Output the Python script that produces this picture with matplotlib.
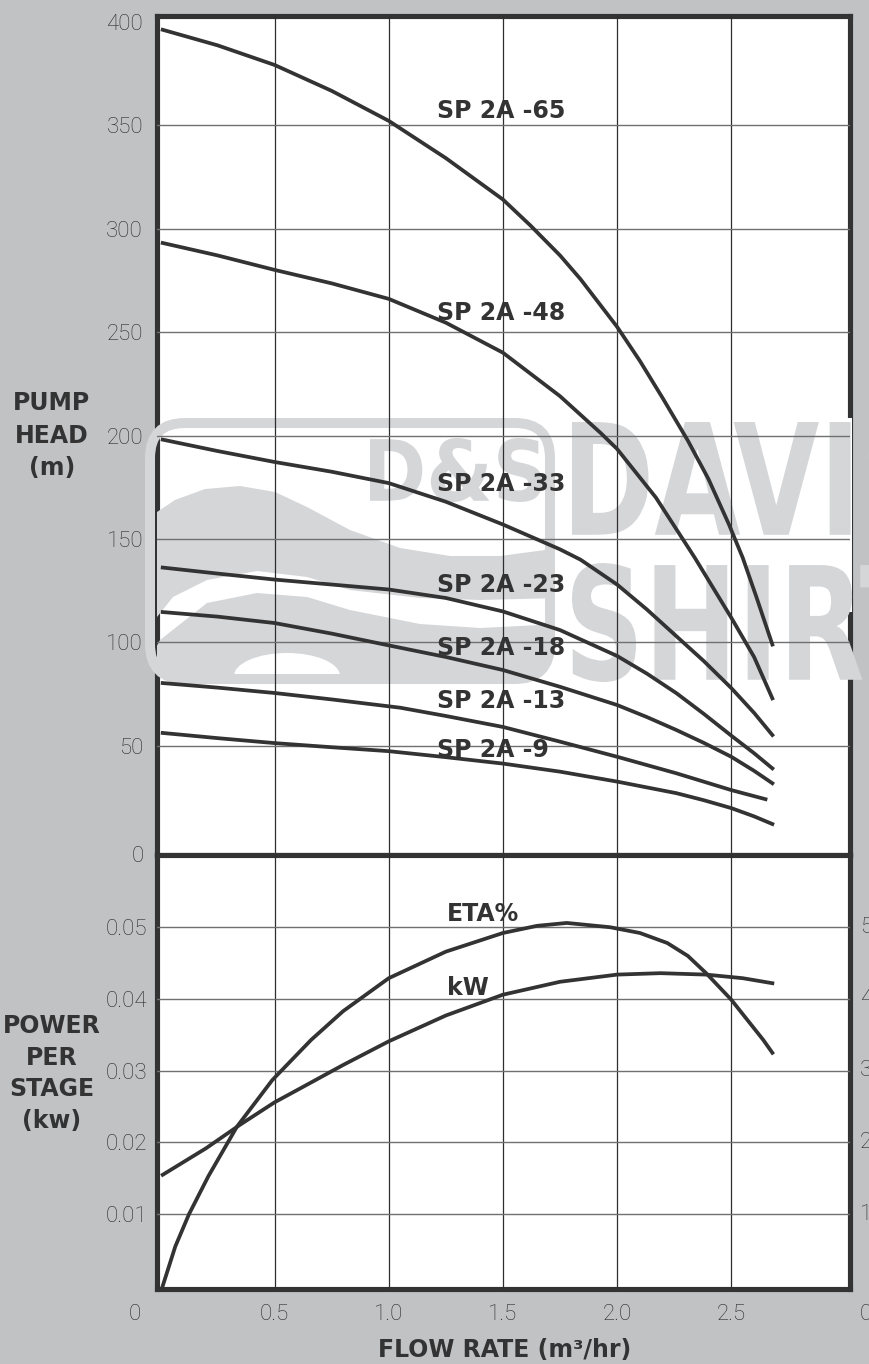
import matplotlib
matplotlib.use('Agg')
import matplotlib.pyplot as plt
from matplotlib.patches import FancyBboxPatch, Polygon, Rectangle, Ellipse, PathPatch
from matplotlib.textpath import TextPath
from matplotlib.font_manager import FontProperties
from matplotlib.transforms import Affine2D

# pump head (m) against flow rate (m3/hr), one pair of lists per model
q_65 = [0.01, 0.25, 0.5, 0.75, 1.0, 1.25, 1.5, 1.62, 1.75, 1.84, 2.0, 2.1, 2.2, 2.31, 2.4, 2.49,
        2.55, 2.61, 2.68]
h_65 = [396, 388.5, 379, 366.5, 352, 334, 314, 301.5, 287, 275.5, 252.5, 236, 218, 197.5, 179,
        157, 141, 122, 99]
q_48 = [0.01, 0.25, 0.5, 0.75, 1.0, 1.25, 1.5, 1.75, 1.93, 2.0, 2.17, 2.34, 2.5, 2.6, 2.68]
h_48 = [293, 287, 280, 273.5, 266, 254.5, 240, 219, 201, 193.5, 170, 141, 112, 93, 73]
q_33 = [0.01, 0.25, 0.5, 0.75, 1.0, 1.25, 1.5, 1.75, 1.84, 2.0, 2.13, 2.26, 2.38, 2.5, 2.6, 2.68]
h_33 = [198, 192.5, 187.2, 182.5, 177, 168, 157, 145, 140, 128, 116, 103, 91, 78, 66, 55.3]
q_23 = [0.01, 0.25, 0.5, 0.75, 1.0, 1.25, 1.5, 1.75, 2.0, 2.13, 2.26, 2.38, 2.5, 2.6, 2.68]
h_23 = [136.2, 133.3, 130.4, 128, 125.6, 121.5, 115, 106, 93.5, 85, 75.5, 65.5, 55, 46.5, 39.2]
q_18 = [0.01, 0.25, 0.5, 0.75, 1.0, 1.25, 1.5, 1.75, 2.0, 2.13, 2.26, 2.38, 2.5, 2.6, 2.68]
h_18 = [114.7, 112.5, 109.4, 104.3, 98.6, 93, 86.7, 78.6, 69.8, 64, 57.7, 51.5, 44.8, 38, 32]
q_13 = [0.01, 0.25, 0.5, 0.75, 1.05, 1.25, 1.5, 1.75, 2.0, 2.26, 2.5, 2.65]
h_13 = [80.4, 78.2, 75.6, 72.5, 68.5, 64.5, 59.2, 52.1, 44.8, 36.8, 28.7, 24.3]
q_9 = [0.01, 0.25, 0.5, 0.75, 1.0, 1.25, 1.5, 1.75, 2.0, 2.26, 2.38, 2.5, 2.6, 2.68]
h_9 = [56.3, 53.8, 51.4, 49.4, 47.5, 44.6, 41.5, 37.6, 32.8, 27.2, 23.8, 20, 16, 12.3]

models = ["SP 2A -65", "SP 2A -48", "SP 2A -33", "SP 2A -23", "SP 2A -18", "SP 2A -13", "SP 2A -9"]
label_head = [353.4, 255.8, 173.2, 124.6, 94, 68.4, 44.9]
label_flow = 1.211

# efficiency and power per stage
q_eta = [0.01, 0.065, 0.125, 0.21, 0.335, 0.49, 0.66, 0.8, 1.0, 1.25, 1.5, 1.65, 1.78, 1.97, 2.1,
         2.22, 2.31, 2.39, 2.5, 2.64, 2.68]
eta = [0.0, 0.0055, 0.010, 0.0153, 0.0222, 0.0287, 0.0343, 0.0383, 0.0429, 0.0466, 0.0492, 0.0502,
       0.0506, 0.0500, 0.0492, 0.0478, 0.0460, 0.0436, 0.0399, 0.0343, 0.0325]
q_kw = [0.01, 0.2, 0.35, 0.5, 0.61, 0.8, 1.0, 1.25, 1.5, 1.75, 2.0, 2.19, 2.39, 2.55, 2.68]
kw = [0.0155, 0.0192, 0.0225, 0.0256, 0.0275, 0.0308, 0.0341, 0.0377, 0.0406, 0.0424, 0.0434,
      0.0436, 0.0434, 0.0429, 0.0422]

head_ticks = [50, 100, 150, 200, 250, 300, 350, 400]
power_ticks = [0.01, 0.02, 0.03, 0.04, 0.05]
power_labels = ["0.01", "0.02", "0.03", "0.04", "0.05"]
eta_labels = ["10", "20", "30", "40", "50"]
flow_ticks = [0.5, 1.0, 1.5, 2.0, 2.5]
flow_labels = ["0.5", "1.0", "1.5", "2.0", "2.5"]

W, H = 870, 1364
BG = '#c1c2c4'
INK = '#333333'
LOGO = '#d5d6d8'

tick_font = dict(family='Roboto', weight='light', size=16, color='#2a2a2a')
bold_font = dict(family='DejaVu Sans', weight='bold', size=17, color=INK)

fig = plt.figure(figsize=(W / 100, H / 100), dpi=100, facecolor=BG)
ax1 = fig.add_axes([157 / W, 1 - 855 / H, 693 / W, 839 / H])
ax2 = fig.add_axes([157 / W, 1 - 1289 / H, 693 / W, 434 / H])

# pixel coordinates measured from the top-left corner of the picture
px = Affine2D().scale(1 / W, -1 / H).translate(0, 1) + fig.transFigure

for ax in (ax1, ax2):
    ax.set_facecolor('white')
    ax.set_xlim(-0.015, 3.02)
    for s in ax.spines.values():
        s.set_linewidth(3.7)
        s.set_color(INK)
    ax.tick_params(length=0)
    for x in flow_ticks:
        ax.axvline(x, color='#2e2e2e', lw=0.9, zorder=2.7)

ax1.set_ylim(-2.66, 402.66)
ax2.set_ylim(-0.00042, 0.06007)

# top panel: pump head
ax1.set_xticks([])
ax1.set_yticks(head_ticks)
ax1.set_yticklabels([str(v) for v in head_ticks], fontdict=tick_font)
ax1.tick_params(axis='y', pad=10)
for v in head_ticks[:-1]:
    ax1.axhline(v, color='#707070', lw=1.0, zorder=2.7)

curves = [(q_65, h_65), (q_48, h_48), (q_33, h_33), (q_23, h_23), (q_18, h_18), (q_13, h_13), (q_9, h_9)]
for (q, h), name, y in zip(curves, models, label_head):
    ax1.plot(q, h, color=INK, lw=2.7, zorder=3, solid_joinstyle='round')
    ax1.text(label_flow, y, name, va='baseline', ha='left', zorder=4, **bold_font)

# bottom panel: power per stage and efficiency
ax2.set_xticks(flow_ticks)
ax2.set_xticklabels(flow_labels, fontdict=tick_font)
ax2.tick_params(axis='x', pad=11)
ax2.set_yticks(power_ticks)
ax2.set_yticklabels(power_labels, fontdict=tick_font)
ax2.tick_params(axis='y', pad=7)
for v in power_ticks:
    ax2.axhline(v, color='#707070', lw=1.0, zorder=2.7)
for v, lab in zip(power_ticks, eta_labels):
    ax2.text(1.0145, v, lab, transform=ax2.get_yaxis_transform(), ha='left', va='center',
             clip_on=False, **tick_font)

ax2.plot(q_eta, eta, color=INK, lw=2.7, zorder=3, solid_joinstyle='round')
ax2.plot(q_kw, kw, color=INK, lw=2.7, zorder=3, solid_joinstyle='round')
ax2.text(1.255, 0.0509, "ETA%", va='baseline', ha='left', zorder=4, **bold_font)
ax2.text(1.255, 0.0405, "kW", va='baseline', ha='left', zorder=4, **bold_font)

# loose zeros sitting on the frame corners
fig.text(144 / W, 1 - 857 / H, "0", ha='right', va='center', **tick_font)
fig.text(135 / W, 1 - 1315 / H, "0", ha='center', va='center', **tick_font)
fig.text(866 / W, 1 - 1315 / H, "0", ha='center', va='center', **tick_font)

# axis titles
for line, base in zip(["PUMP", "HEAD", "(m)"], [410, 443, 475]):
    fig.text(52 / W, 1 - base / H, line, ha='center', va='baseline', **bold_font)
for line, base in zip(["POWER", "PER", "STAGE", "(kw)"], [1033, 1065, 1096, 1128]):
    fig.text(52 / W, 1 - base / H, line, ha='center', va='baseline', **bold_font)
fig.text(505 / W, 1 - 1357 / H, "FLOW RATE (m³/hr)", ha='center', va='baseline', **bold_font)

# ---- watermark logo, drawn over the frame but under grid and curves
box = FancyBboxPatch((150, 423), 400, 256, boxstyle='round,pad=0,rounding_size=35',
                     transform=px, facecolor='white', edgecolor='none', zorder=2.4, clip_on=False)
ax1.add_artist(box)
ax1.add_artist(Rectangle((555, 418), 297, 194, transform=px, facecolor='white',
                         edgecolor='none', zorder=2.55, clip_on=False))

upper_wave = [(145, 520), (175, 500), (205, 489), (240, 486), (275, 492), (307, 507), (350, 530),
              (400, 548), (450, 556), (500, 556), (560, 548), (560, 598), (480, 600), (420, 598),
              (350, 590), (307, 577), (257, 571), (207, 580), (173, 597), (145, 632)]
lower_wave = [(145, 668), (160, 640), (207, 603), (257, 593), (307, 597), (350, 610), (420, 624),
              (480, 628), (560, 624), (560, 690), (145, 690)]
for pts in (upper_wave, lower_wave):
    p = Polygon(pts, closed=True, transform=px, facecolor=LOGO, edgecolor='none', zorder=2.6)
    ax1.add_artist(p)
    p.set_clip_path(box)
arch = Ellipse((287, 676), 106, 46, transform=px, facecolor='white', edgecolor='none', zorder=2.61)
ax1.add_artist(arch)
arch.set_clip_path(box)
ax1.add_artist(FancyBboxPatch((150, 423), 400, 256, boxstyle='round,pad=0,rounding_size=35',
                              transform=px, facecolor='none', edgecolor=LOGO, lw=7.2,
                              zorder=2.62, clip_on=False))


def word_patch(word, x0, y0, x1, y1):
    fp = FontProperties(family='DejaVu Sans', weight='bold')
    tp = TextPath((0, 0), word, size=100, prop=fp)
    bb = tp.get_extents()
    t = (Affine2D().translate(-bb.x0, -bb.y0)
         .scale((x1 - x0) / bb.width, -(y1 - y0) / bb.height).translate(x0, y1))
    return PathPatch(tp, transform=t + px, facecolor=LOGO, edgecolor='none', zorder=2.63,
                     clip_on=False)


ax1.add_artist(word_patch("D&S", 370, 438, 542, 502))
ax1.add_artist(word_patch("DAVIS", 572, 420, 933, 537))
ax1.add_artist(word_patch("SHIRT", 572, 563, 935, 682))

fig.savefig('out.png', dpi=100, facecolor=fig.get_facecolor())
